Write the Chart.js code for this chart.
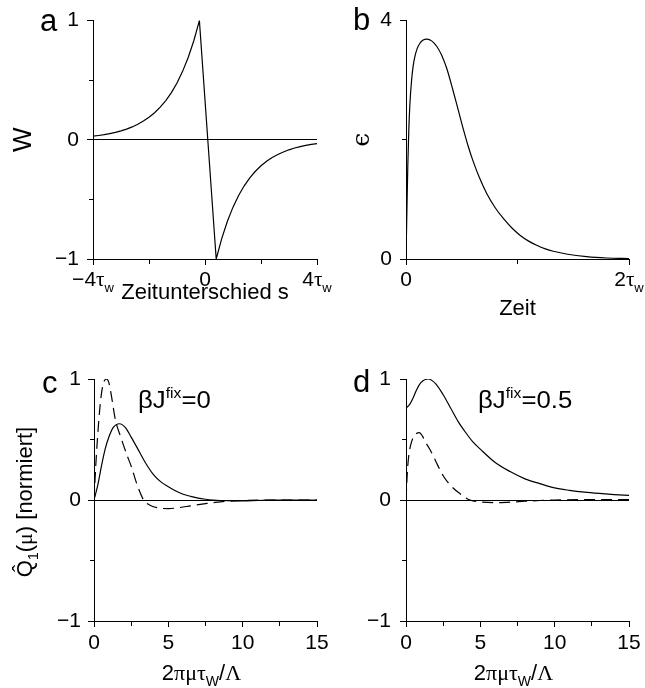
<!DOCTYPE html>
<html><head><meta charset="utf-8">
<script src="https://cdn.jsdelivr.net/npm/chart.js@4.4.1/dist/chart.umd.min.js"></script>
<style>
html,body{margin:0;padding:0;background:#fff;}
#wrap{position:relative;width:645px;height:688px;overflow:hidden;background:#fff;}
#wrap canvas{position:absolute;left:0;top:0;}
</style></head><body>
<div id="wrap">
<canvas id="ca" width="645" height="688"></canvas>
<canvas id="cb" width="645" height="688"></canvas>
<canvas id="cc" width="645" height="688"></canvas>
<canvas id="cd" width="645" height="688"></canvas>
</div>
<script>
// ---------------- data ----------------
// panel a: learning window W(s)
const aS = [-4.0,-3.8,-3.6,-3.4,-3.2,-3.0,-2.8,-2.6,-2.4,-2.2,-2.0,-1.8,-1.6,-1.4,-1.2,-1.0,-0.8,-0.6,-0.4,-0.2,
            0.4,0.6,0.8,1.0,1.2,1.4,1.6,1.8,2.0,2.2,2.4,2.6,2.8,3.0,3.2,3.4,3.6,3.8,4.0];
const aW = [0.030,0.036,0.043,0.052,0.062,0.075,0.090,0.108,0.130,0.157,0.189,0.227,0.274,0.329,0.396,0.477,0.574,0.691,0.831,1.0,
            -1.0,-0.827,-0.683,-0.565,-0.467,-0.386,-0.319,-0.264,-0.218,-0.180,-0.149,-0.123,-0.102,-0.084,-0.069,-0.057,-0.047,-0.039,-0.032];
const aXTicks = [-4,-2,0,2,4];
const aXTickLabels = ['−4τ_w','','0','','4τ_w'];
const aYTicks = [-1,-0.5,0,0.5,1];
const aYTickLabels = ['−1','','0','','1'];

// panel b: epsilon(t)
const bT = [0,0.008,0.016,0.025,0.035,0.05,0.065,0.08,0.1,0.125,0.15,0.19,0.23,0.275,0.32,0.365,0.42,0.47,0.514,0.56,0.604,0.66,0.724,0.8,0.873,0.95,1.022,1.1,1.172,1.25,1.321,1.45,1.62,1.8,2.0];
const bEps = [0,0.8,1.55,2.15,2.6,3.0,3.25,3.4,3.53,3.62,3.67,3.69,3.66,3.57,3.42,3.2,2.84,2.49,2.18,1.88,1.63,1.36,1.1,0.86,0.68,0.52,0.40,0.30,0.23,0.17,0.13,0.08,0.04,0.017,0.006];
const bXTicks = [0,1,2];
const bXTickLabels = ['0','','2τ_w'];
const bYTicks = [0,2,4];
const bYTickLabels = ['0','','4'];

// panel c: beta J^fix = 0
const cSolidMu = [0,0.25,0.5,0.75,1.0,1.3,1.72,2.1,2.5,3.0,3.5,4.0,4.5,5.0,5.5,6.0,6.5,7.0,7.5,8.0,9.0,10,11,12,13,15];
const cSolid   = [0,0.12,0.28,0.42,0.52,0.6,0.63,0.6,0.52,0.41,0.3,0.21,0.15,0.11,0.075,0.048,0.03,0.015,0.006,0.0,-0.006,-0.007,-0.004,-0.001,0,0];
const cDashMu  = [0,0.15,0.3,0.45,0.6,0.83,1.0,1.2,1.43,1.8,2.22,2.5,2.89,3.34,3.8,4.3,5.0,5.8,6.5,7.5,8.5,9.8,11,15];
const cDashed  = [0,0.35,0.62,0.83,0.95,1.0,0.97,0.84,0.667,0.52,0.37,0.28,0.13,0,-0.045,-0.065,-0.071,-0.062,-0.048,-0.03,-0.015,-0.005,0,0];

// panel d: beta J^fix = 0.5
const dSolidMu = [0,0.25,0.5,0.75,1.0,1.5,2.0,2.5,3.0,3.5,4.0,4.5,5.0,6.0,7.0,8.0,9.0,10,11,12,13,14,15];
const dSolid   = [0.76,0.79,0.85,0.92,0.97,1.0,0.96,0.87,0.76,0.65,0.56,0.48,0.42,0.31,0.235,0.175,0.135,0.10,0.08,0.065,0.054,0.045,0.038];
const dDashMu  = [0,0.1,0.2,0.35,0.5,0.7,0.9,1.1,1.3,1.6,2.0,2.5,3.0,3.6,4.3,5.0,6.0,7.0,8.0,9.0,10,12,15];
const dDashed  = [0,0.25,0.38,0.47,0.52,0.55,0.557,0.53,0.48,0.42,0.32,0.2,0.12,0.055,0,-0.016,-0.022,-0.018,-0.01,-0.004,0,0.003,0.004];

const cdXTicks = [0,2.5,5,7.5,10,12.5,15];
const cdXTickLabels = ['0','','5','','10','','15'];
const cdYTicks = [-1,-0.5,0,0.5,1];
const cdYTickLabels = ['−1','','0','','1'];

// ---------------- text ----------------
const panelLetters = ['a','b','c','d'];
const aXTitle = 'Zeitunterschied s';
const aYTitle = 'W';
const bXTitle = 'Zeit';
const bYTitle = 'ϵ';
const cdXTitle = '2πμτ_W/Λ';
const cYTitle = 'Q\u0302_1(μ) [normiert]';
const cNote = 'βJ^{fix}=0';
const dNote = 'βJ^{fix}=0.5';

// ---------------- style / helpers ----------------
const SANS = '"Liberation Sans", Arial, Helvetica, sans-serif';
const SERIF = '"Liberation Serif", "Times New Roman", serif';
const PW = 645, PH = 688;
const TICK = 21, TITLE = 22, NOTE = 23;
Chart.defaults.font.family = SANS;
Chart.defaults.color = '#000';

const SERIF_CHARS = 'τπμΛϵ';
function parseRich(str) {
  const segs = [];
  let i = 0;
  while (i < str.length) {
    const ch = str[i];
    if (ch === '_' || ch === '^') {
      const style = ch === '_' ? 'sub' : 'sup';
      i++;
      let txt;
      if (str[i] === '{') { const j = str.indexOf('}', i); txt = str.slice(i + 1, j); i = j + 1; }
      else { txt = str[i]; i++; }
      segs.push([txt, style]);
      continue;
    }
    let txt = ch; i++;
    while (i < str.length && /[\u0300-\u036f]/.test(str[i])) { txt += str[i]; i++; }
    segs.push([txt, SERIF_CHARS.includes(ch) ? 'g' : '']);
  }
  return segs;
}
function segFont(style, size) {
  const small = style === 'sub' || style === 'sup';
  const fam = style === 'g' ? SERIF : SANS;
  const s = small ? Math.round(size * 0.62) : size;
  return { font: s + 'px ' + fam, dy: style === 'sub' ? size * 0.28 : style === 'sup' ? -size * 0.42 : 0 };
}
function drawRich(ctx, str, x, y, size, align, rot, sx) {
  const segs = parseRich(str);
  let total = 0;
  const m = segs.map(([t, st]) => {
    const f = segFont(st, size); ctx.font = f.font;
    const w = ctx.measureText(t).width; total += w; return { t, f, w };
  });
  ctx.save();
  ctx.translate(x, y);
  if (rot) ctx.rotate(rot);
  if (sx) ctx.scale(sx, 1);
  ctx.textBaseline = 'alphabetic';
  ctx.textAlign = 'left';
  ctx.fillStyle = '#000';
  let cx = align === 'center' ? -total / 2 : align === 'right' ? -total : 0;
  for (const s of m) { ctx.font = s.f.font; ctx.fillText(s.t, cx, s.f.dy); cx += s.w; }
  ctx.restore();
}

function series(xs, ys, dashed, smooth) {
  return {
    data: xs.map((x, i) => ({ x, y: ys[i] })),
    borderColor: '#000', borderWidth: 1.2, borderDash: dashed ? [11, 6] : [],
    pointRadius: 0, fill: false, tension: 0,
    cubicInterpolationMode: smooth ? 'monotone' : 'default'
  };
}

function axis(o) {
  const isX = o.isX;
  return {
    type: 'linear', min: o.min, max: o.max,
    afterBuildTicks: s => { s.ticks = o.ticks.map(v => ({ value: v })); },
    afterFit: s => { if (isX) s.height = o.size; else s.width = o.size; },
    ticks: {
      display: !o.richLabels, autoSkip: false, maxRotation: 0, minRotation: 0,
      font: { size: TICK, family: SANS }, color: '#000', padding: o.pad,
      callback: (v, i) => o.labels[i]
    },
    grid: {
      drawTicks: true, tickLength: 6, lineWidth: 1,
      color: c => (o.zero && c.tick && c.tick.value === 0) ? '#000' : 'rgba(0,0,0,0)',
      tickColor: '#000', tickWidth: 1,
      tickBorderDash: c => (o.labels[c.index] === '' ? (isX ? [4, 100] : [0, 2, 4, 100]) : [])
    },
    border: { display: true, color: '#000', width: 1 },
    title: o.title ? {
      display: true, text: o.title, color: '#000',
      font: { size: o.titleSize || TITLE, family: o.titleFamily || SANS },
      padding: o.titlePad
    } : { display: false }
  };
}

function panel(id, g, datasets, xo, yo, extra) {
  return new Chart(document.getElementById(id).getContext('2d'), {
    type: 'line',
    data: { datasets },
    options: {
      responsive: false, animation: false, devicePixelRatio: 1,
      layout: { padding: { left: g.L - g.yW, right: PW - g.R, top: g.T, bottom: PH - g.B - g.xH } },
      plugins: { legend: { display: false }, tooltip: { enabled: false } },
      scales: { x: axis(Object.assign({ isX: true, size: g.xH }, xo)), y: axis(Object.assign({ isX: false, size: g.yW }, yo)) }
    },
    plugins: [{ id: 'rich', afterDraw(chart) { extra(chart, chart.ctx); } }]
  });
}

function letter(ctx, t, x, y) {
  ctx.save(); ctx.font = '31px ' + SANS; ctx.fillStyle = '#000';
  ctx.textAlign = 'left'; ctx.textBaseline = 'alphabetic'; ctx.fillText(t, x, y); ctx.restore();
}
function richXTicks(chart, ctx, ticks, labels, baseY) {
  const sx = chart.scales.x;
  ticks.forEach((v, i) => { if (labels[i]) drawRich(ctx, labels[i], sx.getPixelForValue(v), baseY, TICK, 'center'); });
}

// ---------------- panels ----------------
const gA = { L: 93, R: 317, T: 19, B: 259, yW: 85, xH: 70 };
panel('ca', gA, [series(aS, aW, false, false)],
  { min: -4, max: 4, ticks: aXTicks, labels: aXTickLabels, richLabels: true, pad: 4, title: aXTitle, titlePad: { top: 0, bottom: 23 } },
  { min: -1, max: 1, ticks: aYTicks, labels: aYTickLabels, pad: 8, zero: true, title: aYTitle, titleSize: 26, titlePad: { top: 0, bottom: 0 } },
  (chart, ctx) => {
    letter(ctx, panelLetters[0], 40, 31);
    richXTicks(chart, ctx, aXTicks, aXTickLabels, gA.B + 27);
  });

const gB = { L: 406, R: 629, T: 19, B: 259, yW: 85, xH: 70 };
panel('cb', gB, [series(bT, bEps, false, true)],
  { min: 0, max: 2, ticks: bXTicks, labels: bXTickLabels, richLabels: true, pad: 4, title: bXTitle, titlePad: { top: 0, bottom: 7 } },
  { min: 0, max: 4, ticks: bYTicks, labels: bYTickLabels, pad: 8, zero: false, title: bYTitle,
    titleFamily: '"DejaVu Serif", "DejaVu Sans", serif', titleSize: 25, titlePad: { top: 26, bottom: 0 } },
  (chart, ctx) => {
    letter(ctx, panelLetters[1], 353, 30);
    richXTicks(chart, ctx, bXTicks, bXTickLabels, gB.B + 27);
  });

const gC = { L: 94, R: 317, T: 379, B: 621, yW: 85, xH: 60 };
panel('cc', gC, [series(cSolidMu, cSolid, false, true), series(cDashMu, cDashed, true, true)],
  { min: 0, max: 15, ticks: cdXTicks, labels: cdXTickLabels, pad: 4 },
  { min: -1, max: 1, ticks: cdYTicks, labels: cdYTickLabels, pad: 7, zero: true },
  (chart, ctx) => {
    letter(ctx, panelLetters[2], 42, 393);
    const ca = chart.chartArea;
    drawRich(ctx, cdXTitle, (ca.left + ca.right) / 2 - 4, 680, TITLE, 'center');
    drawRich(ctx, cYTitle, 32, (ca.top + ca.bottom) / 2 + 2, TITLE, 'center', -Math.PI / 2);
    drawRich(ctx, cNote, 138, 408, NOTE, 'left', 0, 1.12);
  });

const gD = { L: 406, R: 629, T: 379, B: 621, yW: 85, xH: 60 };
panel('cd', gD, [series(dSolidMu, dSolid, false, true), series(dDashMu, dDashed, true, true)],
  { min: 0, max: 15, ticks: cdXTicks, labels: cdXTickLabels, pad: 4 },
  { min: -1, max: 1, ticks: cdYTicks, labels: cdYTickLabels, pad: 9, zero: true },
  (chart, ctx) => {
    letter(ctx, panelLetters[3], 353, 392);
    const ca = chart.chartArea;
    drawRich(ctx, cdXTitle, (ca.left + ca.right) / 2 - 4, 680, TITLE, 'center');
    drawRich(ctx, dNote, 478, 408, NOTE, 'left', 0, 1.12);
  });
</script>
</body></html>
